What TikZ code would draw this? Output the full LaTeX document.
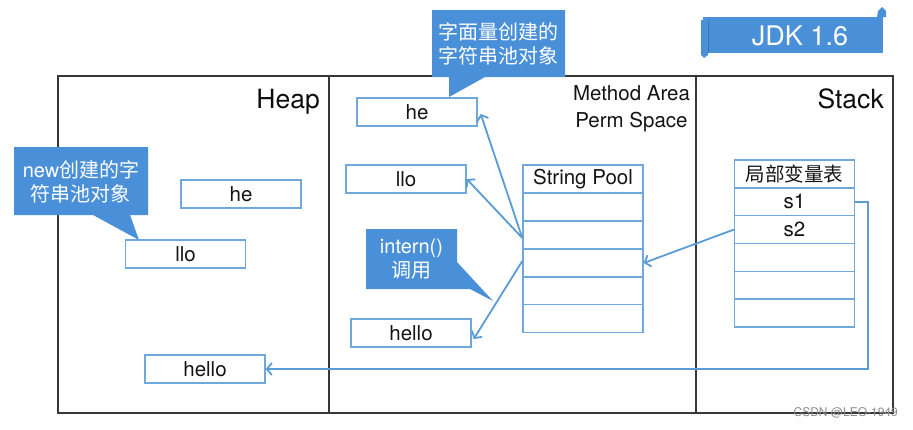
\documentclass[tikz,border=0pt]{standalone}
\usepackage{fontspec}
\setmainfont{TeX Gyre Heros}
\newfontfamily\cjk{Noto Sans CJK SC}
\usetikzlibrary{arrows.meta}
\definecolor{callout}{RGB}{74,144,217}
\definecolor{boxline}{RGB}{111,168,220}
\definecolor{arr}{RGB}{91,155,213}
\definecolor{frame}{RGB}{55,55,55}
\tikzset{
  strbox/.style={draw=boxline, line width=1.4pt, minimum width=120pt, minimum height=28pt, inner sep=0pt, font=\fontsize{20.5}{24}\selectfont, text=black!92},
  tabcell/.style={draw=boxline, line width=1.4pt, minimum width=120pt, minimum height=27.8pt, inner sep=0pt, font=\fontsize{20.5}{24}\selectfont, text=black!92},
  calltext/.style={text=white, align=center, font=\fontsize{20}{24}\selectfont, inner sep=0pt},
  callfill/.style={fill=callout, draw=none},
  link/.style={draw=arr, line width=1.8pt, -{Straight Barb[length=5pt,width=12pt]}},
  heading/.style={font=\fontsize{26.5}{30}\selectfont, text=black!95, inner sep=0pt},
  sub/.style={font=\fontsize{20.5}{27}\selectfont, text=black!92, align=center, inner sep=0pt}
}
\begin{document}
\begin{tikzpicture}[x=1pt, y=-1pt]
\useasboundingbox (0,0) rectangle (913,429);
% frame
\draw[frame, line width=1.8pt] (58,76) rectangle (893,413);
\draw[frame, line width=1.8pt] (329,76) -- (329,413);
\draw[frame, line width=1.8pt] (696,76) -- (696,413);
% headings
\node[heading, anchor=base east] (heap) at (320,108) {Heap};
\node[heading, anchor=base east] (stack) at (884,108) {Stack};
\node[sub, anchor=north] (ma) at (631.5,85) {Method Area\\Perm Space};
% heap boxes
\node[strbox] (hhe) at (241,194) {he};
\node[strbox] (hllo) at (185.5,254) {llo};
\node[strbox] (hhello) at (205,369) {hello};
% method area boxes
\node[strbox] (mhe) at (417,112) {he};
\node[strbox] (mllo) at (406,179) {llo};
\node[strbox] (mhello) at (411,333) {hello};
% string pool
\node[tabcell] (ph) at (583,179) {String Pool};
\node[tabcell] (p1) at (583,207) {};
\node[tabcell] (p2) at (583,235) {};
\node[tabcell] (p3) at (583,263) {};
\node[tabcell] (p4) at (583,290.8) {};
\node[tabcell] (p5) at (583,318.6) {};
% stack table
\node[tabcell, font=\cjk\fontsize{19.5}{24}\selectfont] (sh) at (794.5,174) {局部变量表};
\node[tabcell] (s1) at (794.5,201.8) {s1};
\node[tabcell] (s2) at (794.5,229.6) {s2};
\node[tabcell] (s3) at (794.5,257.4) {};
\node[tabcell] (s4) at (794.5,285.2) {};
\node[tabcell] (s5) at (794.5,313) {};
% arrows
\coordinate (pa) at ([yshift=-3pt]p2.west);
\coordinate (pb) at ([yshift=2pt]p3.west);
\draw[link] (pa) -- ([xshift=3pt,yshift=-2pt]mhe.east);
\draw[link] (pa) -- (mllo.east);
\draw[link] (pb) -- ([xshift=2pt,yshift=-6pt]mhello.east);
\draw[link] (s2.west) -- (p3.east);
\coordinate (bend1) at (868,201.8);
\coordinate (bend2) at (868,369);
\draw[link] (s1.east) -- (bend1) -- (bend2) -- (hhello.east);
% callouts
\fill[callfill] (14,147) -- (148,147) -- (148,215) -- (130,215) -- (139,240) -- (93,215) -- (14,215) -- cycle;
\node[calltext] (c1) at (81,182) {new{\cjk 创建的字}\\{\cjk 符串池对象}};
\fill[callfill] (432,10) -- (565,10) -- (565,77) -- (485,77) -- (449,97) -- (449,77) -- (432,77) -- cycle;
\node[calltext, font=\cjk\fontsize{20}{24}\selectfont] (c2) at (498.5,44) {字面量创建的\\字符串池对象};
\fill[callfill] (366,229) -- (457,229) -- (457,262) -- (493,301) -- (470,289) -- (366,289) -- cycle;
\node[calltext] (c3) at (411.5,259) {intern()\\{\cjk 调用}};
% banner
\fill[callout] (703,17) rectangle (883,53);
\fill[callout] (877,17) -- (878,11) -- (882,7) -- (886,11) -- (886,17) -- cycle;
\fill[callout] (701,20) -- (701,55) -- (704,58) -- (708,55) -- (708,20) -- cycle;
\draw[callout!80!black, line width=0.6pt] (708,21) -- (708,53);
\node[text=white, font=\fontsize{27}{30}\selectfont, inner sep=0pt] (jdk) at (800,36) {JDK 1.6};
% watermark
\node[text=black!45, font=\fontsize{12}{14}\selectfont, inner sep=0pt, anchor=east] (wm) at (898,413) {CSDN @LEO-1949};
\end{tikzpicture}
\end{document}
